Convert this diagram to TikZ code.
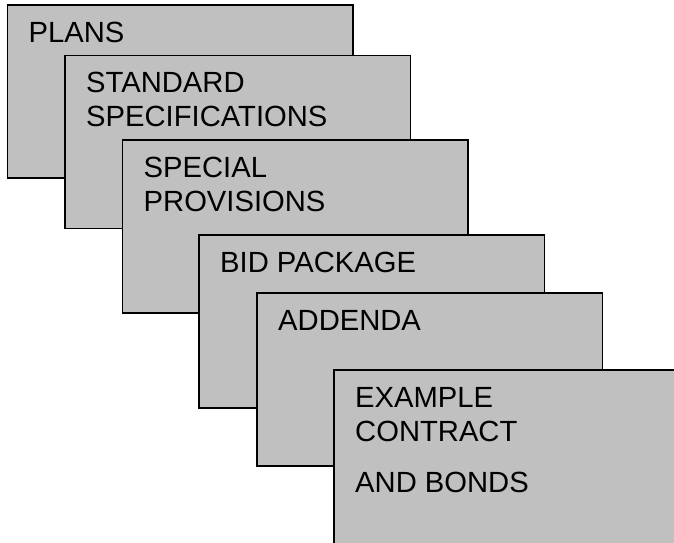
\documentclass[tikz,border=0pt]{standalone}
\usepackage{fontspec}
\setmainfont{Liberation Sans}
\definecolor{sheetgray}{RGB}{192,192,192}
\begin{document}
\begin{tikzpicture}[x=1pt,y=-1pt,
  sheet/.style={draw=black, line width=1.5pt, fill=sheetgray, minimum width=345.5pt, minimum height=173pt, anchor=north west, inner sep=0pt, outer sep=0pt},
  txt/.style={anchor=base west, inner sep=0pt, font=\fontsize{29.2}{34}\selectfont}]
\useasboundingbox (0,0) rectangle (674,542);
\clip (0,0) rectangle (674,542);
\node[sheet] (s1) at (7.5,5) {};
\node[txt] (t1) at (28.5,42) {PLANS};
\node[sheet] (s2) at (65,55.5) {};
\node[txt] (t2a) at (86,92) {STANDARD};
\node[txt] (t2b) at (86,126) {SPECIFICATIONS};
\node[sheet] (s3) at (122.5,140) {};
\node[txt] (t3a) at (143.5,177) {SPECIAL};
\node[txt] (t3b) at (143.5,211) {PROVISIONS};
\node[sheet] (s4) at (199,235) {};
\node[txt] (t4) at (220,272) {BID PACKAGE};
\node[sheet] (s5) at (257,293) {};
\node[txt] (t5) at (278,330) {ADDENDA};
\node[sheet, minimum height=190pt] (s6) at (334,370) {};
\node[txt] (t6a) at (355,407) {EXAMPLE};
\node[txt] (t6b) at (355,441) {CONTRACT};
\node[txt] (t6c) at (355,492) {AND BONDS};
\end{tikzpicture}
\end{document}
